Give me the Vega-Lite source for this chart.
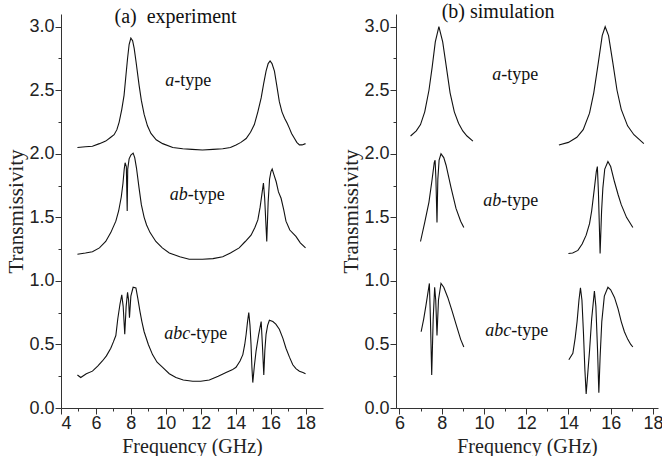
{
  "$schema": "https://vega.github.io/schema/vega-lite/v6.json",
  "padding": {"left": 5, "top": 2, "right": 0, "bottom": 0},
  "spacing": 17,
  "background": "white",
  "config": {
    "view": {"stroke": null},
    "axis": {
      "domainColor": "#333", "tickColor": "#333", "labelColor": "#222", "titleColor": "#222",
      "labelFont": "Liberation Sans, Arial, sans-serif", "labelFontSize": 18, "titleFont": "Liberation Serif, Times New Roman, serif",
      "titleFontSize": 20, "titleFontWeight": "normal", "grid": false, "tickSize": 6,
      "labelPadding": 1, "domainWidth": 1, "tickWidth": 1
    },
    "text": {"font": "Liberation Serif, Times New Roman, serif", "fontSize": 18, "color": "#111"}
  },
  "datasets": {
    "exp": [
      {"s":"a","x":4.94,"y":2.05},{"s":"a","x":5.4,"y":2.055},{"s":"a","x":5.8,"y":2.06},{"s":"a","x":6.2,"y":2.08},{"s":"a","x":6.56,"y":2.1},{"s":"a","x":6.85,"y":2.13},{"s":"a","x":7.04,"y":2.15},{"s":"a","x":7.2,"y":2.19},{"s":"a","x":7.33,"y":2.25},{"s":"a","x":7.48,"y":2.35},{"s":"a","x":7.61,"y":2.46},{"s":"a","x":7.72,"y":2.62},{"s":"a","x":7.81,"y":2.75},{"s":"a","x":7.9,"y":2.86},{"s":"a","x":8.0,"y":2.91},{"s":"a","x":8.1,"y":2.89},{"s":"a","x":8.19,"y":2.83},{"s":"a","x":8.3,"y":2.72},{"s":"a","x":8.47,"y":2.54},{"s":"a","x":8.6,"y":2.42},{"s":"a","x":8.76,"y":2.31},{"s":"a","x":8.95,"y":2.22},{"s":"a","x":9.15,"y":2.16},{"s":"a","x":9.45,"y":2.11},{"s":"a","x":9.82,"y":2.08},{"s":"a","x":10.4,"y":2.05},{"s":"a","x":10.97,"y":2.04},{"s":"a","x":11.5,"y":2.035},{"s":"a","x":12.1,"y":2.03},{"s":"a","x":12.7,"y":2.035},{"s":"a","x":13.26,"y":2.04},{"s":"a","x":13.7,"y":2.05},{"s":"a","x":14.02,"y":2.07},{"s":"a","x":14.3,"y":2.09},{"s":"a","x":14.6,"y":2.12},{"s":"a","x":14.85,"y":2.17},{"s":"a","x":15.07,"y":2.23},{"s":"a","x":15.27,"y":2.33},{"s":"a","x":15.46,"y":2.44},{"s":"a","x":15.6,"y":2.55},{"s":"a","x":15.74,"y":2.65},{"s":"a","x":15.86,"y":2.71},{"s":"a","x":15.97,"y":2.73},{"s":"a","x":16.08,"y":2.71},{"s":"a","x":16.22,"y":2.65},{"s":"a","x":16.35,"y":2.54},{"s":"a","x":16.5,"y":2.41},{"s":"a","x":16.65,"y":2.33},{"s":"a","x":16.8,"y":2.28},{"s":"a","x":16.95,"y":2.24},{"s":"a","x":17.08,"y":2.2},{"s":"a","x":17.2,"y":2.16},{"s":"a","x":17.37,"y":2.12},{"s":"a","x":17.5,"y":2.09},{"s":"a","x":17.65,"y":2.07},{"s":"a","x":17.8,"y":2.07},{"s":"a","x":18.0,"y":2.08},
      {"s":"ab","x":4.94,"y":1.21},{"s":"ab","x":5.4,"y":1.22},{"s":"ab","x":5.8,"y":1.23},{"s":"ab","x":6.2,"y":1.26},{"s":"ab","x":6.56,"y":1.31},{"s":"ab","x":6.85,"y":1.38},{"s":"ab","x":7.14,"y":1.47},{"s":"ab","x":7.3,"y":1.55},{"s":"ab","x":7.45,"y":1.66},{"s":"ab","x":7.55,"y":1.77},{"s":"ab","x":7.62,"y":1.88},{"s":"ab","x":7.67,"y":1.93},{"s":"ab","x":7.74,"y":1.9},{"s":"ab","x":7.79,"y":1.55},{"s":"ab","x":7.82,"y":1.88},{"s":"ab","x":7.9,"y":1.96},{"s":"ab","x":8.0,"y":1.99},{"s":"ab","x":8.13,"y":2.005},{"s":"ab","x":8.22,"y":1.97},{"s":"ab","x":8.32,"y":1.89},{"s":"ab","x":8.47,"y":1.73},{"s":"ab","x":8.6,"y":1.6},{"s":"ab","x":8.76,"y":1.5},{"s":"ab","x":8.9,"y":1.44},{"s":"ab","x":9.1,"y":1.38},{"s":"ab","x":9.43,"y":1.31},{"s":"ab","x":9.8,"y":1.26},{"s":"ab","x":10.2,"y":1.22},{"s":"ab","x":10.8,"y":1.19},{"s":"ab","x":11.34,"y":1.17},{"s":"ab","x":12.1,"y":1.17},{"s":"ab","x":12.7,"y":1.175},{"s":"ab","x":13.26,"y":1.19},{"s":"ab","x":13.7,"y":1.22},{"s":"ab","x":14.2,"y":1.26},{"s":"ab","x":14.55,"y":1.31},{"s":"ab","x":14.88,"y":1.36},{"s":"ab","x":15.1,"y":1.42},{"s":"ab","x":15.27,"y":1.48},{"s":"ab","x":15.4,"y":1.58},{"s":"ab","x":15.52,"y":1.7},{"s":"ab","x":15.59,"y":1.77},{"s":"ab","x":15.66,"y":1.65},{"s":"ab","x":15.78,"y":1.31},{"s":"ab","x":15.86,"y":1.62},{"s":"ab","x":15.94,"y":1.8},{"s":"ab","x":16.02,"y":1.86},{"s":"ab","x":16.09,"y":1.88},{"s":"ab","x":16.18,"y":1.84},{"s":"ab","x":16.32,"y":1.78},{"s":"ab","x":16.45,"y":1.7},{"s":"ab","x":16.6,"y":1.65},{"s":"ab","x":16.75,"y":1.56},{"s":"ab","x":16.88,"y":1.47},{"s":"ab","x":17.1,"y":1.4},{"s":"ab","x":17.45,"y":1.35},{"s":"ab","x":17.7,"y":1.3},{"s":"ab","x":18.0,"y":1.26},
      {"s":"abc","x":4.94,"y":0.26},{"s":"abc","x":5.13,"y":0.24},{"s":"abc","x":5.45,"y":0.27},{"s":"abc","x":5.8,"y":0.29},{"s":"abc","x":6.1,"y":0.33},{"s":"abc","x":6.37,"y":0.37},{"s":"abc","x":6.6,"y":0.41},{"s":"abc","x":6.85,"y":0.47},{"s":"abc","x":7.0,"y":0.52},{"s":"abc","x":7.14,"y":0.57},{"s":"abc","x":7.25,"y":0.7},{"s":"abc","x":7.38,"y":0.82},{"s":"abc","x":7.48,"y":0.89},{"s":"abc","x":7.56,"y":0.8},{"s":"abc","x":7.65,"y":0.58},{"s":"abc","x":7.73,"y":0.8},{"s":"abc","x":7.81,"y":0.91},{"s":"abc","x":7.87,"y":0.85},{"s":"abc","x":7.92,"y":0.71},{"s":"abc","x":8.0,"y":0.88},{"s":"abc","x":8.13,"y":0.95},{"s":"abc","x":8.29,"y":0.945},{"s":"abc","x":8.4,"y":0.86},{"s":"abc","x":8.52,"y":0.76},{"s":"abc","x":8.63,"y":0.68},{"s":"abc","x":8.76,"y":0.6},{"s":"abc","x":9.0,"y":0.5},{"s":"abc","x":9.24,"y":0.42},{"s":"abc","x":9.5,"y":0.36},{"s":"abc","x":9.82,"y":0.32},{"s":"abc","x":10.2,"y":0.27},{"s":"abc","x":10.58,"y":0.24},{"s":"abc","x":11.0,"y":0.22},{"s":"abc","x":11.54,"y":0.21},{"s":"abc","x":12.0,"y":0.21},{"s":"abc","x":12.49,"y":0.22},{"s":"abc","x":13.0,"y":0.25},{"s":"abc","x":13.45,"y":0.28},{"s":"abc","x":13.8,"y":0.3},{"s":"abc","x":14.02,"y":0.32},{"s":"abc","x":14.25,"y":0.37},{"s":"abc","x":14.41,"y":0.42},{"s":"abc","x":14.52,"y":0.5},{"s":"abc","x":14.6,"y":0.58},{"s":"abc","x":14.68,"y":0.68},{"s":"abc","x":14.75,"y":0.75},{"s":"abc","x":14.82,"y":0.65},{"s":"abc","x":14.88,"y":0.5},{"s":"abc","x":14.93,"y":0.32},{"s":"abc","x":14.98,"y":0.2},{"s":"abc","x":15.07,"y":0.33},{"s":"abc","x":15.17,"y":0.45},{"s":"abc","x":15.32,"y":0.58},{"s":"abc","x":15.46,"y":0.68},{"s":"abc","x":15.53,"y":0.5},{"s":"abc","x":15.61,"y":0.26},{"s":"abc","x":15.67,"y":0.45},{"s":"abc","x":15.74,"y":0.58},{"s":"abc","x":15.83,"y":0.65},{"s":"abc","x":15.93,"y":0.69},{"s":"abc","x":16.13,"y":0.68},{"s":"abc","x":16.3,"y":0.66},{"s":"abc","x":16.5,"y":0.62},{"s":"abc","x":16.7,"y":0.55},{"s":"abc","x":16.88,"y":0.47},{"s":"abc","x":17.08,"y":0.4},{"s":"abc","x":17.27,"y":0.34},{"s":"abc","x":17.45,"y":0.31},{"s":"abc","x":17.65,"y":0.29},{"s":"abc","x":17.85,"y":0.28},{"s":"abc","x":18.0,"y":0.27}
    ],
    "sim": [
      {"s":"aL","x":6.53,"y":2.14},{"s":"aL","x":6.8,"y":2.18},{"s":"aL","x":7.0,"y":2.23},{"s":"aL","x":7.2,"y":2.33},{"s":"aL","x":7.4,"y":2.5},{"s":"aL","x":7.55,"y":2.68},{"s":"aL","x":7.7,"y":2.88},{"s":"aL","x":7.87,"y":3.0},{"s":"aL","x":8.05,"y":2.88},{"s":"aL","x":8.2,"y":2.71},{"s":"aL","x":8.4,"y":2.48},{"s":"aL","x":8.6,"y":2.33},{"s":"aL","x":8.8,"y":2.24},{"s":"aL","x":9.0,"y":2.18},{"s":"aL","x":9.2,"y":2.14},{"s":"aL","x":9.48,"y":2.1},
      {"s":"aR","x":13.55,"y":2.07},{"s":"aR","x":14.0,"y":2.09},{"s":"aR","x":14.4,"y":2.13},{"s":"aR","x":14.7,"y":2.19},{"s":"aR","x":15.0,"y":2.32},{"s":"aR","x":15.2,"y":2.48},{"s":"aR","x":15.4,"y":2.7},{"s":"aR","x":15.6,"y":2.93},{"s":"aR","x":15.74,"y":3.0},{"s":"aR","x":15.9,"y":2.93},{"s":"aR","x":16.1,"y":2.72},{"s":"aR","x":16.3,"y":2.5},{"s":"aR","x":16.5,"y":2.35},{"s":"aR","x":16.8,"y":2.22},{"s":"aR","x":17.1,"y":2.15},{"s":"aR","x":17.57,"y":2.08},
      {"s":"abL","x":7.0,"y":1.31},{"s":"abL","x":7.2,"y":1.46},{"s":"abL","x":7.4,"y":1.62},{"s":"abL","x":7.55,"y":1.8},{"s":"abL","x":7.65,"y":1.93},{"s":"abL","x":7.69,"y":1.95},{"s":"abL","x":7.73,"y":1.8},{"s":"abL","x":7.78,"y":1.46},{"s":"abL","x":7.82,"y":1.8},{"s":"abL","x":7.88,"y":1.95},{"s":"abL","x":7.97,"y":2.0},{"s":"abL","x":8.1,"y":1.97},{"s":"abL","x":8.21,"y":1.91},{"s":"abL","x":8.45,"y":1.73},{"s":"abL","x":8.68,"y":1.57},{"s":"abL","x":8.9,"y":1.47},{"s":"abL","x":9.05,"y":1.42},
      {"s":"abR","x":14.0,"y":1.215},{"s":"abR","x":14.2,"y":1.22},{"s":"abR","x":14.45,"y":1.24},{"s":"abR","x":14.65,"y":1.29},{"s":"abR","x":14.84,"y":1.36},{"s":"abR","x":15.0,"y":1.45},{"s":"abR","x":15.1,"y":1.55},{"s":"abR","x":15.23,"y":1.73},{"s":"abR","x":15.32,"y":1.86},{"s":"abR","x":15.37,"y":1.9},{"s":"abR","x":15.42,"y":1.7},{"s":"abR","x":15.5,"y":1.215},{"s":"abR","x":15.57,"y":1.55},{"s":"abR","x":15.63,"y":1.73},{"s":"abR","x":15.72,"y":1.88},{"s":"abR","x":15.87,"y":1.94},{"s":"abR","x":16.0,"y":1.9},{"s":"abR","x":16.18,"y":1.78},{"s":"abR","x":16.35,"y":1.68},{"s":"abR","x":16.5,"y":1.6},{"s":"abR","x":16.75,"y":1.5},{"s":"abR","x":17.05,"y":1.42},
      {"s":"abcL","x":7.03,"y":0.6},{"s":"abcL","x":7.15,"y":0.7},{"s":"abcL","x":7.26,"y":0.81},{"s":"abcL","x":7.42,"y":0.98},{"s":"abcL","x":7.47,"y":0.7},{"s":"abcL","x":7.53,"y":0.26},{"s":"abcL","x":7.6,"y":0.7},{"s":"abcL","x":7.67,"y":0.95},{"s":"abcL","x":7.72,"y":0.85},{"s":"abcL","x":7.78,"y":0.57},{"s":"abcL","x":7.85,"y":0.85},{"s":"abcL","x":7.97,"y":0.98},{"s":"abcL","x":8.1,"y":0.95},{"s":"abcL","x":8.29,"y":0.87},{"s":"abcL","x":8.5,"y":0.76},{"s":"abcL","x":8.68,"y":0.66},{"s":"abcL","x":8.9,"y":0.54},{"s":"abcL","x":9.05,"y":0.48},
      {"s":"abcR","x":14.02,"y":0.38},{"s":"abcR","x":14.21,"y":0.43},{"s":"abcR","x":14.32,"y":0.55},{"s":"abcR","x":14.41,"y":0.68},{"s":"abcR","x":14.5,"y":0.85},{"s":"abcR","x":14.57,"y":0.945},{"s":"abcR","x":14.64,"y":0.85},{"s":"abcR","x":14.71,"y":0.6},{"s":"abcR","x":14.78,"y":0.3},{"s":"abcR","x":14.84,"y":0.11},{"s":"abcR","x":14.92,"y":0.28},{"s":"abcR","x":15.0,"y":0.45},{"s":"abcR","x":15.1,"y":0.7},{"s":"abcR","x":15.23,"y":0.92},{"s":"abcR","x":15.3,"y":0.8},{"s":"abcR","x":15.38,"y":0.45},{"s":"abcR","x":15.44,"y":0.12},{"s":"abcR","x":15.5,"y":0.4},{"s":"abcR","x":15.58,"y":0.68},{"s":"abcR","x":15.7,"y":0.88},{"s":"abcR","x":15.87,"y":0.95},{"s":"abcR","x":16.0,"y":0.93},{"s":"abcR","x":16.18,"y":0.87},{"s":"abcR","x":16.35,"y":0.78},{"s":"abcR","x":16.5,"y":0.68},{"s":"abcR","x":16.65,"y":0.6},{"s":"abcR","x":16.81,"y":0.54},{"s":"abcR","x":16.95,"y":0.5},{"s":"abcR","x":17.05,"y":0.48}
    ],
    "expLab": [
      {"x":10.48,"y":2.53,"it":"a","rest":"-type"},
      {"x":11.25,"y":1.634,"it":"ab","rest":"-type"},
      {"x":11.4,"y":0.54,"it":"abc","rest":"-type"}
    ],
    "simLab": [
      {"x":10.82,"y":2.577,"it":"a","rest":"-type"},
      {"x":10.82,"y":1.587,"it":"ab","rest":"-type"},
      {"x":11.29,"y":0.566,"it":"abc","rest":"-type"}
    ]
  },
  "hconcat": [
    {
      "width": 262, "height": 394,
      "resolve": {"axis": {"x": "independent", "y": "independent"}},
      "layer": [
        {
          "data": {"name": "exp"},
          "mark": {"type": "line", "color": "#111", "strokeWidth": 1.1},
          "encoding": {
            "x": {"field": "x", "type": "quantitative", "scale": {"domain": [4, 19], "nice": false, "zero": false},
                  "axis": {"values": [4,6,8,10,12,14,16,18], "format": "d", "title": "Frequency (GHz)", "titleFontSize": 20, "titlePadding": 4, "labelPadding": 0}},
            "y": {"field": "y", "type": "quantitative", "scale": {"domain": [0, 3.1], "nice": false},
                  "axis": {"values": [0,0.5,1,1.5,2,2.5,3], "format": ".1f", "title": "Transmissivity", "titleFontSize": 21, "titlePadding": 2}},
            "detail": {"field": "s"}
          }
        },
        {
          "data": {"name": "exp"},
          "mark": {"type": "line", "opacity": 0},
          "encoding": {
            "x": {"field": "x", "type": "quantitative",
                  "axis": {"orient": "bottom", "values": [5,7,9,11,13,15,17], "labels": false, "domain": false, "tickSize": 3, "title": null}},
            "y": {"field": "y", "type": "quantitative",
                  "axis": {"orient": "left", "values": [0.25,0.75,1.25,1.75,2.25,2.75], "labels": false, "domain": false, "tickSize": 3, "title": null}},
            "detail": {"field": "s"}
          }
        },
        {
          "data": {"name": "expLab"},
          "mark": {"type": "text", "align": "right", "baseline": "alphabetic", "fontStyle": "italic"},
          "encoding": {
            "x": {"field": "x", "type": "quantitative", "axis": null},
            "y": {"field": "y", "type": "quantitative", "axis": null},
            "text": {"field": "it"}
          }
        },
        {
          "data": {"name": "expLab"},
          "mark": {"type": "text", "align": "left", "baseline": "alphabetic"},
          "encoding": {
            "x": {"field": "x", "type": "quantitative", "axis": null},
            "y": {"field": "y", "type": "quantitative", "axis": null},
            "text": {"field": "rest"}
          }
        },
        {
          "data": {"values": [{"x": 10.56, "y": 3.03, "t": "(a)\u00a0 experiment"}]},
          "mark": {"type": "text", "align": "center", "baseline": "alphabetic", "fontSize": 20},
          "encoding": {
            "x": {"field": "x", "type": "quantitative", "axis": null},
            "y": {"field": "y", "type": "quantitative", "axis": null},
            "text": {"field": "t"}
          }
        }
      ]
    },
    {
      "width": 262, "height": 394,
      "resolve": {"axis": {"x": "independent", "y": "independent"}},
      "layer": [
        {
          "data": {"name": "sim"},
          "mark": {"type": "line", "color": "#111", "strokeWidth": 1.1},
          "encoding": {
            "x": {"field": "x", "type": "quantitative", "scale": {"domain": [5.84, 18.24], "nice": false, "zero": false},
                  "axis": {"values": [6,8,10,12,14,16,18], "format": "d", "title": "Frequency (GHz)", "titleFontSize": 20, "titlePadding": 4, "labelPadding": 0}},
            "y": {"field": "y", "type": "quantitative", "scale": {"domain": [0, 3.1], "nice": false},
                  "axis": {"values": [0,0.5,1,1.5,2,2.5,3], "format": ".1f", "title": "Transmissivity", "titleFontSize": 21, "titlePadding": 2}},
            "detail": {"field": "s"}
          }
        },
        {
          "data": {"name": "sim"},
          "mark": {"type": "line", "opacity": 0},
          "encoding": {
            "x": {"field": "x", "type": "quantitative",
                  "axis": {"orient": "bottom", "values": [7,9,11,13,15,17], "labels": false, "domain": false, "tickSize": 3, "title": null}},
            "y": {"field": "y", "type": "quantitative",
                  "axis": {"orient": "left", "values": [0.25,0.75,1.25,1.75,2.25,2.75], "labels": false, "domain": false, "tickSize": 3, "title": null}},
            "detail": {"field": "s"}
          }
        },
        {
          "data": {"name": "simLab"},
          "mark": {"type": "text", "align": "right", "baseline": "alphabetic", "fontStyle": "italic"},
          "encoding": {
            "x": {"field": "x", "type": "quantitative", "axis": null},
            "y": {"field": "y", "type": "quantitative", "axis": null},
            "text": {"field": "it"}
          }
        },
        {
          "data": {"name": "simLab"},
          "mark": {"type": "text", "align": "left", "baseline": "alphabetic"},
          "encoding": {
            "x": {"field": "x", "type": "quantitative", "axis": null},
            "y": {"field": "y", "type": "quantitative", "axis": null},
            "text": {"field": "rest"}
          }
        },
        {
          "data": {"values": [{"x": 10.67, "y": 3.066, "t": "(b) simulation"}]},
          "mark": {"type": "text", "align": "center", "baseline": "alphabetic", "fontSize": 20},
          "encoding": {
            "x": {"field": "x", "type": "quantitative", "axis": null},
            "y": {"field": "y", "type": "quantitative", "axis": null},
            "text": {"field": "t"}
          }
        }
      ]
    }
  ]
}
